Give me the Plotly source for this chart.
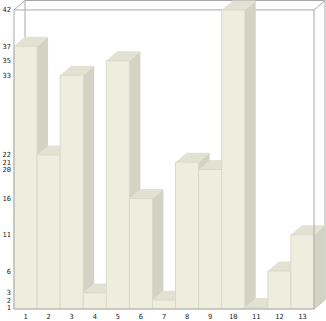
import plotly.graph_objects as go

# ---- data ----
categories = list(range(1, 14))
values = [37, 22, 33, 3, 35, 16, 2, 21, 20, 42, 1, 6, 11]
x_tick_labels = [str(c) for c in categories]
y_tick_values = sorted(set(values))
y_tick_labels = [str(v) for v in y_tick_values]

# ---- geometry (pixel-based scale helpers) ----
W = 300 / 13.0          # px per category
S = 7.3                 # px per value unit
Y_TOP = 42.0            # value at front frame top
Y_MIN = Y_TOP - 301 / S # value at front frame bottom
DXU = 11 / W            # depth offset in x units
DYU = 9.5 / S           # depth offset in y units
X_MIN, X_MAX = 0.5, 13.5
x_rng = [0.5 - 2 / W, 0.5 + 312 / W]
y_rng = [Y_TOP - 303 / S, Y_TOP + 10 / S]

FRONT = "#EEEEDF"
TOP = "#E2E2D2"
SIDE = "#D3D3C3"
EDGE = "#D9D9CA"
FRAME = "#A9A9A9"

fig = go.Figure()


def line(xs, ys, color=FRAME, width=1):
    fig.add_trace(go.Scatter(x=xs, y=ys, mode="lines",
                             line=dict(color=color, width=width),
                             hoverinfo="skip", showlegend=False))


def poly(xs, ys, fill, lc=None, lw=0):
    fig.add_trace(go.Scatter(x=xs + [xs[0]], y=ys + [ys[0]], mode="lines",
                             fill="toself", fillcolor=fill,
                             line=dict(color=lc or fill, width=lw),
                             hoverinfo="skip", showlegend=False))


# back frame (behind bars)
bx0, bx1 = X_MIN + DXU, X_MAX + DXU
by0, by1 = Y_MIN + DYU, Y_TOP + DYU
line([bx0, bx1], [by1, by1])
line([bx0, bx0], [by0, by1])
line([bx1, bx1], [by0, by1])
line([bx0, bx1], [by0, by0])
line([X_MIN, bx0], [Y_TOP, by1])
line([X_MAX, bx1], [Y_TOP, by1])
line([X_MAX, bx1], [Y_MIN, by0])
line([X_MIN, X_MAX], [Y_TOP, Y_TOP])

# bars (painter's order left to right)
for c, v in zip(categories, values):
    x0, x1 = c - 0.5, c + 0.5
    poly([x1, x1 + DXU, x1 + DXU, x1], [Y_MIN, Y_MIN + DYU, v + DYU, v], SIDE)
    poly([x0, x1, x1 + DXU, x0 + DXU], [v, v, v + DYU, v + DYU], TOP)
    poly([x0, x1, x1, x0], [Y_MIN, Y_MIN, v, v], FRONT, EDGE, 1)

# front frame lines on top
line([X_MIN, X_MIN], [Y_MIN, Y_TOP])
line([X_MAX, X_MAX], [Y_MIN, Y_TOP])
line([X_MIN, X_MAX], [Y_MIN, Y_MIN])

tick_font = dict(family="DejaVu Sans Mono", size=7, color="#222222")
fig.update_layout(
    width=326, height=321,
    margin=dict(l=12, r=0, t=0, b=8, pad=0),
    paper_bgcolor="white", plot_bgcolor="white",
    showlegend=False,
    xaxis=dict(range=x_rng, tickvals=categories, ticktext=x_tick_labels,
               showgrid=False, zeroline=False, showline=False, ticks="",
               tickfont=tick_font, fixedrange=True),
    yaxis=dict(range=y_rng, tickvals=y_tick_values, ticktext=y_tick_labels,
               showgrid=False, zeroline=False, showline=False, ticks="",
               tickfont=tick_font, fixedrange=True),
)

fig.write_html("out.html", config={"displayModeBar": False})
